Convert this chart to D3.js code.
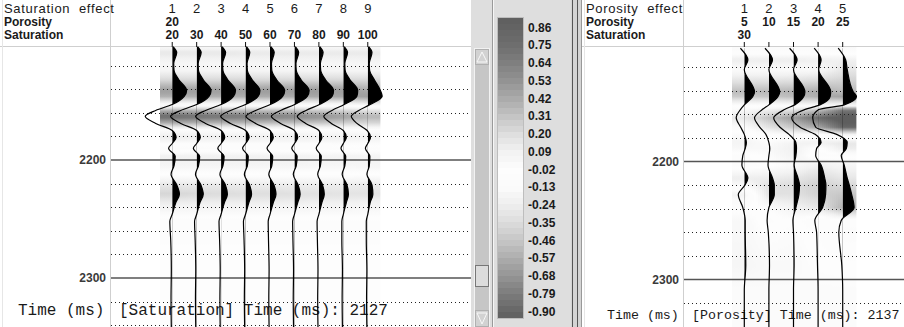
<!DOCTYPE html>
<html>
<head>
<meta charset="utf-8">
<script src="https://cdn.jsdelivr.net/npm/d3@7"></script>
<style>
  body { margin: 0; background: #fff; }
  svg { display: block; }
  text { font-family: "Liberation Sans", Arial, sans-serif; fill: #1a1a1a; }
  .mono { font-family: "Liberation Mono", "DejaVu Sans Mono", monospace; }
</style>
</head>
<body>
<div id="chart"></div>
<script>
// ---- data ----
// saturation panel (left)
const satTraceNumbers = ["1", "2", "3", "4", "5", "6", "7", "8", "9"];
const satPorosityLabels = ["20"];
const satSaturationLabels = ["20", "30", "40", "50", "60", "70", "80", "90", "100"];
const satTimes = [2104, 2109, 2118, 2124, 2132, 2141, 2146, 2153, 2158, 2163, 2169, 2175, 2181, 2186,
  2190, 2197, 2205, 2212, 2221, 2229, 2236, 2246, 2252, 2268, 2293, 2318, 2342];
const satAmps = [
  [0.03, 0.15, 0.05, 0.06, 0.22, 0.48, 0.40, 0.00, -0.55, -0.90, -0.55, 0.00, 0.13, 0.00, -0.12, 0.10, 0.06, -0.04, 0.15, 0.24, 0.12, 0.00, -0.08, -0.05, -0.03, -0.04, -0.03],
  [0.03, 0.15, 0.05, 0.06, 0.22, 0.48, 0.41, 0.00, -0.53, -0.87, -0.53, 0.00, 0.12, 0.00, -0.11, 0.10, 0.06, -0.04, 0.14, 0.22, 0.11, 0.00, -0.07, -0.05, -0.03, -0.04, -0.03],
  [0.03, 0.15, 0.05, 0.06, 0.22, 0.48, 0.41, 0.00, -0.52, -0.85, -0.52, 0.00, 0.12, 0.00, -0.11, 0.10, 0.06, -0.04, 0.14, 0.21, 0.11, 0.00, -0.07, -0.05, -0.03, -0.04, -0.03],
  [0.03, 0.14, 0.05, 0.06, 0.22, 0.48, 0.42, 0.00, -0.50, -0.83, -0.50, 0.00, 0.12, 0.00, -0.10, 0.09, 0.06, -0.04, 0.13, 0.20, 0.11, 0.00, -0.07, -0.05, -0.03, -0.04, -0.03],
  [0.03, 0.14, 0.05, 0.06, 0.22, 0.49, 0.42, 0.01, -0.48, -0.80, -0.48, 0.00, 0.11, 0.00, -0.10, 0.09, 0.06, -0.04, 0.13, 0.20, 0.11, 0.00, -0.06, -0.05, -0.03, -0.04, -0.03],
  [0.03, 0.14, 0.05, 0.06, 0.22, 0.49, 0.43, 0.01, -0.46, -0.77, -0.46, 0.00, 0.11, 0.00, -0.09, 0.09, 0.06, -0.04, 0.12, 0.19, 0.11, 0.00, -0.06, -0.05, -0.03, -0.04, -0.03],
  [0.03, 0.14, 0.05, 0.06, 0.22, 0.49, 0.44, 0.02, -0.43, -0.72, -0.44, 0.00, 0.10, 0.00, -0.09, 0.08, 0.05, -0.04, 0.12, 0.18, 0.10, 0.00, -0.06, -0.05, -0.03, -0.04, -0.03],
  [0.03, 0.14, 0.05, 0.06, 0.22, 0.48, 0.45, 0.03, -0.38, -0.65, -0.40, 0.00, 0.10, 0.00, -0.08, 0.08, 0.05, -0.04, 0.12, 0.17, 0.10, 0.00, -0.05, -0.05, -0.03, -0.04, -0.03],
  [0.03, 0.14, 0.05, 0.06, 0.22, 0.42, 0.48, 0.08, -0.30, -0.55, -0.36, -0.02, 0.09, 0.00, -0.08, 0.07, 0.05, -0.03, 0.14, 0.17, 0.08, 0.00, -0.05, -0.05, -0.03, -0.04, -0.03]
];

// porosity panel (right)
const porTraceNumbers = ["1", "2", "3", "4", "5"];
const porPorosityLabels = ["5", "10", "15", "20", "25"];
const porSaturationLabels = ["30"];
const porTimes = [2104, 2114, 2122, 2141, 2145, 2152, 2156, 2163, 2171, 2177, 2184, 2189,
  2195, 2203, 2214, 2220, 2228, 2239, 2250, 2260, 2288, 2309, 2341];
const porAmps = [
  [-0.13, 0.12, 0.00, 0.34, 0.28, 0.00, -0.13, -0.27, -0.12, 0.00, 0.07, 0.03, -0.05, -0.08, 0.12, 0.02, -0.20, -0.05, 0.03, 0.03, 0.05, 0.00, 0.00],
  [-0.13, 0.12, 0.00, 0.36, 0.30, 0.00, -0.22, -0.48, -0.30, -0.10, 0.00, 0.03, 0.00, -0.03, 0.12, 0.18, 0.18, 0.00, -0.06, -0.02, 0.02, 0.00, 0.00],
  [-0.13, 0.12, 0.00, 0.38, 0.34, 0.04, -0.30, -0.66, -0.45, -0.15, 0.08, 0.10, 0.08, 0.02, 0.15, 0.20, 0.18, 0.08, -0.02, 0.00, 0.02, 0.00, 0.00],
  [-0.13, 0.10, 0.02, 0.42, 0.40, 0.06, -0.45, -0.88, -0.60, -0.10, 0.10, -0.05, -0.08, 0.10, 0.22, 0.26, 0.25, 0.15, -0.11, -0.05, -0.02, 0.00, 0.00],
  [-0.15, 0.10, 0.15, 0.35, 0.46, 0.05, -0.80, -1.00, -0.90, -0.20, 0.15, 0.12, -0.05, 0.05, 0.15, 0.22, 0.30, 0.38, -0.05, -0.13, -0.03, 0.00, 0.00]
];

// shared axis / colour bar values
const timeLabels = [2200, 2300];
const dottedTimes = [2120, 2140, 2160, 2180, 2220, 2240, 2260, 2280, 2320, 2340];
const colorbarTicks = [0.86, 0.75, 0.64, 0.53, 0.42, 0.31, 0.20, 0.09, -0.02, -0.13, -0.24, -0.35, -0.46, -0.57, -0.68, -0.79, -0.90];
const greyStops = [0.92, 0.75, 0.64, 0.53, 0.42, 0.31, 0.20, 0.09, -0.02, -0.13, -0.24, -0.35, -0.46, -0.57, -0.68, -0.79, -0.94];
const greyColors = ["#5e5e5e", "#6e6e6e", "#7f7f7f", "#939393", "#aaaaaa", "#c4c4c4", "#dedede", "#f2f2f2", "#fdfdfd",
  "#fbfbfb", "#eeeeee", "#dcdcdc", "#c6c6c6", "#adadad", "#959595", "#7c7c7c", "#5e5e5e"];

// ---- setup ----
const W = 904, H = 327;
const svg = d3.select("#chart").append("svg").attr("width", W).attr("height", H);
const defs = svg.append("defs");

const grey = d3.scaleLinear().domain(greyStops).range(greyColors).clamp(true);
const ampPx = d3.scaleLinear().domain([0, 1]).range([0, 30]);

function drawPanel(cfg) {
  const g = svg.append("g");
  const y = d3.scaleLinear().domain([2200, 2300]).range(cfg.yRange);
  const x = d3.scaleBand().domain(cfg.numbers).range(cfg.vdRange).paddingInner(0);
  const cx = function (k) { return x(k) + x.bandwidth() / 2; };
  const tTop = y.invert(cfg.plotTop), tBot = y.invert(H);

  // frame lines
  g.append("line").attr("x1", cfg.left).attr("x2", cfg.right).attr("y1", cfg.plotTop - 0.5).attr("y2", cfg.plotTop - 0.5)
    .attr("stroke", "#cfcfcf");
  g.append("line").attr("x1", cfg.axisX + 0.5).attr("x2", cfg.axisX + 0.5).attr("y1", 0).attr("y2", H)
    .attr("stroke", "#cfcfcf");
  g.append("line").attr("x1", cfg.left + 2.5).attr("x2", cfg.left + 2.5).attr("y1", 0).attr("y2", H)
    .attr("stroke", "#e6e6e6");

  // header
  const hdr = g.append("g");
  hdr.append("text").attr("x", cfg.left + 4).attr("y", 12.5).style("font-size", "13px")
    .style("letter-spacing", "0.7px").style("white-space", "pre").text(cfg.title);
  hdr.append("text").attr("x", cfg.left + 4).attr("y", 26).style("font-size", "12px").style("font-weight", "bold").text("Porosity");
  hdr.append("text").attr("x", cfg.left + 4).attr("y", 39).style("font-size", "12px").style("font-weight", "bold").text("Saturation");

  hdr.selectAll(".num").data(cfg.numbers).join("text")
    .attr("x", function (d) { return cx(d); }).attr("y", 12.5)
    .attr("text-anchor", "middle").style("font-size", "13px").text(function (d) { return d; });
  hdr.selectAll(".por").data(cfg.porosity).join("text")
    .attr("x", function (d, i) { return cx(cfg.numbers[i]); }).attr("y", 26)
    .attr("text-anchor", "middle").style("font-size", "12px").style("font-weight", "bold").text(function (d) { return d; });
  hdr.selectAll(".sat").data(cfg.saturation).join("text")
    .attr("x", function (d, i) { return cx(cfg.numbers[i]); }).attr("y", 39)
    .attr("text-anchor", "middle").style("font-size", "12px").style("font-weight", "bold").text(function (d) { return d; });
  hdr.selectAll(".tick").data(cfg.numbers).join("line")
    .attr("x1", function (d) { return cx(d); }).attr("x2", function (d) { return cx(d); })
    .attr("y1", 42).attr("y2", cfg.plotTop).attr("stroke", "#111");

  // variable density background, interpolated between neighbouring traces
  const ampScales = cfg.amps.map(function (a) {
    return d3.scaleLinear().domain(cfg.times).range(a).clamp(true);
  });
  const samples = d3.range(tTop, tBot + 2, 2);
  const colW = 2;
  const cols = d3.range(cfg.vdRange[0], cfg.vdRange[1], colW);
  const c0 = cx(cfg.numbers[0]);
  const n = cfg.amps.length;
  cols.forEach(function (px, ci) {
    let f = (px + colW / 2 - c0) / x.bandwidth();
    f = Math.max(0, Math.min(n - 1, f));
    const i0 = Math.min(n - 2, Math.floor(f));
    const w = f - i0;
    const id = cfg.id + "-vd-" + ci;
    const grad = defs.append("linearGradient").attr("id", id)
      .attr("x1", 0).attr("y1", 0).attr("x2", 0).attr("y2", 1);
    grad.selectAll("stop").data(samples).join("stop")
      .attr("offset", function (t) { return (y(t) - cfg.plotTop) / (H - cfg.plotTop); })
      .attr("stop-color", function (t) {
        return grey((1 - w) * ampScales[i0](t) + w * ampScales[i0 + 1](t));
      });
    g.append("rect").attr("x", px).attr("y", cfg.plotTop).attr("width", colW + 0.4).attr("height", H - cfg.plotTop)
      .attr("fill", "url(#" + id + ")");
  });

  // grid
  g.selectAll(".dot").data(dottedTimes).join("line")
    .attr("x1", cfg.axisX + 1).attr("x2", cfg.right)
    .attr("y1", function (d) { return Math.round(y(d)) + 0.5; })
    .attr("y2", function (d) { return Math.round(y(d)) + 0.5; })
    .attr("stroke", "#222").attr("stroke-dasharray", "1,3");
  g.selectAll(".solid").data(timeLabels).join("line")
    .attr("x1", cfg.axisX + 1).attr("x2", cfg.right)
    .attr("y1", function (d) { return y(d); }).attr("y2", function (d) { return y(d); })
    .attr("stroke", "#555").attr("stroke-width", 1.6);
  g.selectAll(".tl").data(timeLabels).join("text")
    .attr("x", cfg.axisX - 4).attr("y", function (d) { return y(d) + 4; })
    .attr("text-anchor", "end").style("font-size", "12px").style("font-weight", "bold")
    .style("fill", "#3a3a3a").text(function (d) { return d; });

  // bottom captions
  g.append("text").attr("class", "mono").attr("x", cfg.capX1).attr("y", cfg.capY)
    .style("font-size", cfg.capSize + "px").style("white-space", "pre").text("Time (ms)");
  g.append("text").attr("class", "mono").attr("x", cfg.capX2).attr("y", cfg.capY)
    .style("font-size", cfg.capSize + "px").style("white-space", "pre").text(cfg.caption);

  // wiggle traces
  cfg.amps.forEach(function (a, i) {
    const base = cx(cfg.numbers[i]);
    const pts = cfg.times.map(function (t, j) { return { t: t, a: a[j] }; });
    const clipId = cfg.id + "-clip-" + i;
    defs.append("clipPath").attr("id", clipId).append("rect")
      .attr("x", base).attr("y", 0).attr("width", 60).attr("height", H);
    const area = d3.area()
      .y(function (d) { return y(d.t); })
      .x0(base)
      .x1(function (d) { return base + ampPx(d.a); })
      .curve(d3.curveMonotoneY);
    const line = d3.line()
      .x(function (d) { return base + ampPx(d.a); })
      .y(function (d) { return y(d.t); })
      .curve(d3.curveMonotoneY);
    g.append("path").attr("d", area(pts)).attr("fill", "#000").attr("clip-path", "url(#" + clipId + ")");
    g.append("path").attr("d", line(pts)).attr("fill", "none").attr("stroke", "#000").attr("stroke-width", 1.2);
  });
}

drawPanel({
  id: "sat", left: 0, right: 471, axisX: 110, plotTop: 47,
  yRange: [160, 278], vdRange: [160, 380],
  title: "Saturation  effect", numbers: satTraceNumbers,
  porosity: satPorosityLabels, saturation: satSaturationLabels,
  times: satTimes, amps: satAmps,
  capX1: 18, capX2: 119, capY: 315, capSize: 16, caption: "[Saturation] Time (ms): 2127"
});

drawPanel({
  id: "por", left: 582, right: 904, axisX: 683, plotTop: 47,
  yRange: [161.5, 279.5], vdRange: [732, 855],
  title: "Porosity  effect", numbers: porTraceNumbers,
  porosity: porPorosityLabels, saturation: porSaturationLabels,
  times: porTimes, amps: porAmps,
  capX1: 607, capX2: 692, capY: 319, capSize: 13.3, caption: "[Porosity] Time (ms): 2137"
});

// ---- middle strip: scrollbar + colour bar ----
const mid = svg.append("g");
mid.append("rect").attr("x", 471).attr("y", 0).attr("width", 111).attr("height", H).attr("fill", "#dedede");
// scrollbar
mid.append("rect").attr("x", 474.5).attr("y", 48.5).attr("width", 15).attr("height", 279)
  .attr("fill", "#c6c6c6").attr("stroke", "#f2f2f2");
mid.append("rect").attr("x", 475.5).attr("y", 49.5).attr("width", 13).attr("height", 15)
  .attr("fill", "#d2d2d2").attr("stroke", "#b0b0b0");
mid.append("path").attr("d", "M482,52 L477,62 L487,62 Z").attr("fill", "none").attr("stroke", "#f8f8f8");
mid.append("rect").attr("x", 475.5).attr("y", 265.5).attr("width", 13).attr("height", 21)
  .attr("fill", "#dcdcdc").attr("stroke", "#777");
mid.append("rect").attr("x", 475.5).attr("y", 310.5).attr("width", 13).attr("height", 16)
  .attr("fill", "#d2d2d2").attr("stroke", "#b0b0b0");
mid.append("path").attr("d", "M477,313 L487,313 L482,324 Z").attr("fill", "none").attr("stroke", "#f8f8f8");
// separators
mid.append("line").attr("x1", 492.5).attr("x2", 492.5).attr("y1", 0).attr("y2", H).attr("stroke", "#9a9a9a");
mid.append("line").attr("x1", 493.5).attr("x2", 493.5).attr("y1", 0).attr("y2", H).attr("stroke", "#f6f6f6");
mid.append("rect").attr("x", 571).attr("y", 0).attr("width", 11).attr("height", H).attr("fill", "#d4d4d4");
mid.append("line").attr("x1", 572.5).attr("x2", 572.5).attr("y1", 0).attr("y2", H).attr("stroke", "#555");
mid.append("line").attr("x1", 577.5).attr("x2", 577.5).attr("y1", 0).attr("y2", H).attr("stroke", "#555");
mid.append("line").attr("x1", 581.5).attr("x2", 581.5).attr("y1", 0).attr("y2", H).attr("stroke", "#999");

// colour bar
const cbY = d3.scaleLinear().domain([0.92, -0.94]).range([18, 318]);
const cbBands = d3.range(0, 50);
const bandH = (cbY.range()[1] - cbY.range()[0]) / cbBands.length;
mid.selectAll(".cb").data(cbBands).join("rect")
  .attr("x", 498).attr("width", 25)
  .attr("y", function (d) { return cbY.range()[0] + d * bandH; })
  .attr("height", bandH + 0.5)
  .attr("fill", function (d) { return grey(cbY.invert(cbY.range()[0] + (d + 0.5) * bandH)); });
mid.append("rect").attr("x", 497.5).attr("y", 17.5).attr("width", 26).attr("height", 301)
  .attr("fill", "none").attr("stroke", "#bdbdbd");
mid.selectAll(".cbl").data(colorbarTicks).join("text")
  .attr("x", 528).attr("y", function (d) { return cbY(d) + 4; })
  .style("font-size", "12px").style("font-weight", "bold")
  .text(function (d) { return d.toFixed(2); });
</script>
</body>
</html>
